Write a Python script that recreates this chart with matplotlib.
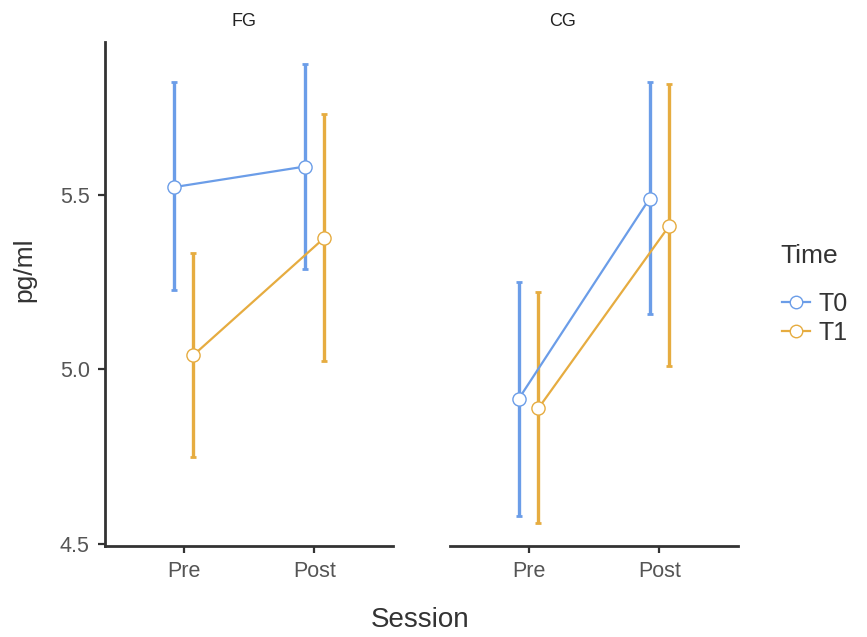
import matplotlib
matplotlib.use("Agg")
import matplotlib.pyplot as plt
from matplotlib.lines import Line2D
import numpy as np

plt.rcParams['font.family'] = ['Liberation Sans', 'DejaVu Sans']

sessions = ["Pre", "Post"]
groups = ["FG", "CG"]
times = ["T0", "T1"]

# mean and confidence limits per group / time, ordered Pre, Post
fg_t0_mean = [5.521, 5.580]
fg_t0_low = [5.226, 5.288]
fg_t0_high = [5.821, 5.873]
fg_t1_mean = [5.040, 5.376]
fg_t1_low = [4.749, 5.024]
fg_t1_high = [5.332, 5.732]

cg_t0_mean = [4.914, 5.488]
cg_t0_low = [4.578, 5.157]
cg_t0_high = [5.249, 5.821]
cg_t1_mean = [4.888, 5.411]
cg_t1_low = [4.559, 5.009]
cg_t1_high = [5.221, 5.816]

y_ticks = [4.5, 5.0, 5.5]

data = {
    "FG": {"T0": (fg_t0_mean, fg_t0_low, fg_t0_high),
           "T1": (fg_t1_mean, fg_t1_low, fg_t1_high)},
    "CG": {"T0": (cg_t0_mean, cg_t0_low, cg_t0_high),
           "T1": (cg_t1_mean, cg_t1_low, cg_t1_high)},
}

colors = {"T0": "#6B9DE8", "T1": "#E6AC40"}
offsets = {"T0": -0.076, "T1": 0.076}
axis_col = "#333333"
tick_col = "#555555"

fig = plt.figure(figsize=(8.67, 6.37), dpi=100)
ax_l = fig.add_axes([105 / 867, 1 - 546 / 637, 288 / 867, 504 / 637])
ax_r = fig.add_axes([450 / 867, 1 - 546 / 637, 288 / 867, 504 / 637], sharey=ax_l)

x = np.arange(1, len(sessions) + 1)

for ax, g in zip([ax_l, ax_r], groups):
    for t in times:
        mean, low, high = (np.array(v) for v in data[g][t])
        xs = x + offsets[t]
        c = colors[t]
        ax.errorbar(xs, mean, yerr=[mean - low, high - mean], fmt="none",
                    ecolor=c, elinewidth=2.4, capsize=2.2, capthick=2.0, zorder=2)
        ax.plot(xs, mean, color=c, lw=1.6, zorder=3)
        ax.plot(xs, mean, linestyle="none", marker="o", ms=9.5,
                mfc="white", mec=c, mew=1.0, zorder=4)
    ax.set_xlim(0.4, 2.6)
    ax.set_xticks(x)
    ax.set_xticklabels(sessions)
    ax.set_ylim(4.493, 5.937)
    for side in ["top", "right"]:
        ax.spines[side].set_visible(False)
    ax.spines["bottom"].set_color(axis_col)
    ax.spines["bottom"].set_linewidth(2.0)
    ax.spines["left"].set_color(axis_col)
    ax.spines["left"].set_linewidth(2.0)
    ax.tick_params(axis="both", colors=axis_col, length=5, width=1.6,
                   labelsize=15.5, labelcolor=tick_col, pad=6)

ax_l.set_yticks(y_ticks)
ax_l.set_yticklabels([f"{v:.1f}" for v in y_ticks])
ax_r.spines["left"].set_visible(False)
ax_r.tick_params(axis="y", left=False, labelleft=False)

fig.text(244 / 867, 1 - 21 / 637, "FG", ha="center", va="center",
         fontsize=13, color="#222222")
fig.text(563 / 867, 1 - 21 / 637, "CG", ha="center", va="center",
         fontsize=13, color="#222222")

fig.text(420 / 867, 1 - 620 / 637, "Session", ha="center", va="center",
         fontsize=20, color=axis_col)
fig.text(24 / 867, 1 - 270 / 637, "pg/ml", ha="center", va="center",
         rotation=90, fontsize=19, color=axis_col)

# legend: title as its own text, entries below
fig.text(780 / 867, 1 - 256 / 637, "Time", ha="left", va="center",
         fontsize=19, color=axis_col)
handles = [Line2D([0], [0], color=colors[t], lw=1.6, marker="o", ms=9,
                  mfc="white", mec=colors[t], mew=1.0) for t in times]
leg = fig.legend(handles, times, loc="upper left",
                 bbox_to_anchor=(772 / 867, 1 - 282 / 637), frameon=False,
                 fontsize=18, handlelength=1.1, handletextpad=0.35,
                 labelspacing=0.2, borderaxespad=0.0)
for txt in leg.get_texts():
    txt.set_color(axis_col)

fig.savefig("out.png", dpi=100, facecolor="white")
